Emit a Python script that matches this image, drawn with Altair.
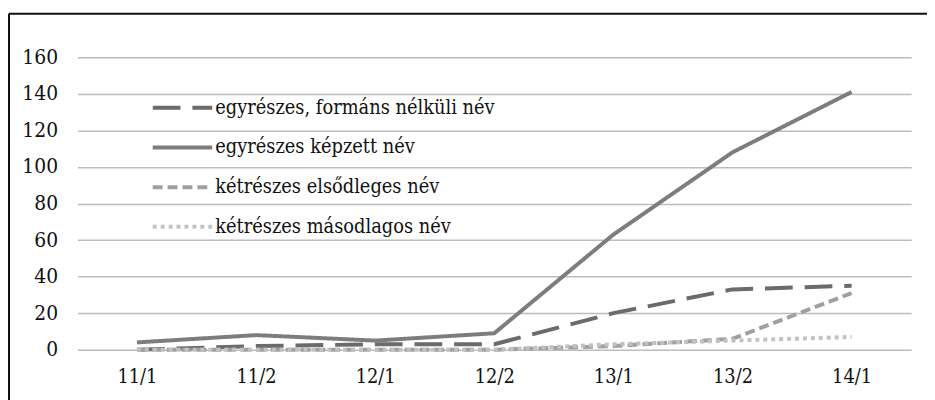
import altair as alt
import pandas as pd

periods = ["11/1", "11/2", "12/1", "12/2", "13/1", "13/2", "14/1"]
series_names = [
    "egyrészes, formáns nélküli név",
    "egyrészes képzett név",
    "kétrészes elsődleges név",
    "kétrészes másodlagos név",
]
formans_nelkuli = [0, 2, 3, 3, 20, 33, 35]
kepzett = [4, 8, 5, 9, 63, 108, 141]
elsodleges = [0, 0, 0, 0, 2, 6, 31]
masodlagos = [0, 0, 0, 0, 3, 5, 7]
y_ticks = [0, 20, 40, 60, 80, 100, 120, 140, 160]

rows = []
for name, vals in zip(series_names, [formans_nelkuli, kepzett, elsodleges, masodlagos]):
    for p, v in zip(periods, vals):
        rows.append({"period": p, "series": name, "value": v})
df = pd.DataFrame(rows)

colors = ["#6b6b6b", "#7d7d7d", "#a0a0a0", "#c2c2c2"]
dashes = [[28, 12], [1, 0], [10, 5], [4, 4]]
FONT = "DejaVu Serif Condensed, DejaVu Serif, serif"

lines = alt.Chart(df).mark_line(strokeWidth=4).encode(
    x=alt.X("period:N", sort=periods, title=None,
            scale=alt.Scale(type="point", padding=0.5),
            axis=alt.Axis(domain=False, ticks=False, grid=False, labelAngle=0,
                          labelFontSize=20, labelPadding=17, labelColor="#111",
                          labelFont=FONT)),
    y=alt.Y("value:Q", title=None,
            scale=alt.Scale(domain=[0, 160], nice=False),
            axis=alt.Axis(values=y_ticks, domain=False, ticks=False,
                          gridColor="#bdbdbd", gridWidth=1.5,
                          labelFontSize=21, labelPadding=20, labelColor="#111",
                          labelFont=FONT)),
    color=alt.Color("series:N", sort=series_names, title=None,
                    scale=alt.Scale(domain=series_names, range=colors),
                    legend=alt.Legend(orient="none", legendX=74, legendY=38,
                                      symbolType="stroke", symbolSize=3600,
                                      symbolStrokeWidth=4, clipHeight=26,
                                      rowPadding=14, labelOffset=1,
                                      labelFontSize=20, labelFont=FONT,
                                      labelColor="#111", padding=0,
                                      labelLimit=400)),
    strokeDash=alt.StrokeDash("series:N", sort=series_names, title=None,
                              scale=alt.Scale(domain=series_names, range=dashes),
                              legend=None),
)

frame_data = alt.Data(values=[{}])
left_edge = alt.Chart(frame_data).mark_rule(color="#111", strokeWidth=2).encode(
    x=alt.value(-69), y=alt.value(-44), y2=alt.value(400))
top_edge = alt.Chart(frame_data).mark_rule(color="#111", strokeWidth=2).encode(
    x=alt.value(-69), x2=alt.value(900), y=alt.value(-44))

chart = alt.layer(lines, left_edge, top_edge).properties(
    width=841, height=295,
    autosize=alt.AutoSizeParams(type="none"),
    padding={"left": 70, "top": 48, "right": 16, "bottom": 49},
    background="white",
).configure_view(stroke=None)

chart.save("out.html", embed_options={"renderer": "svg", "actions": False})
